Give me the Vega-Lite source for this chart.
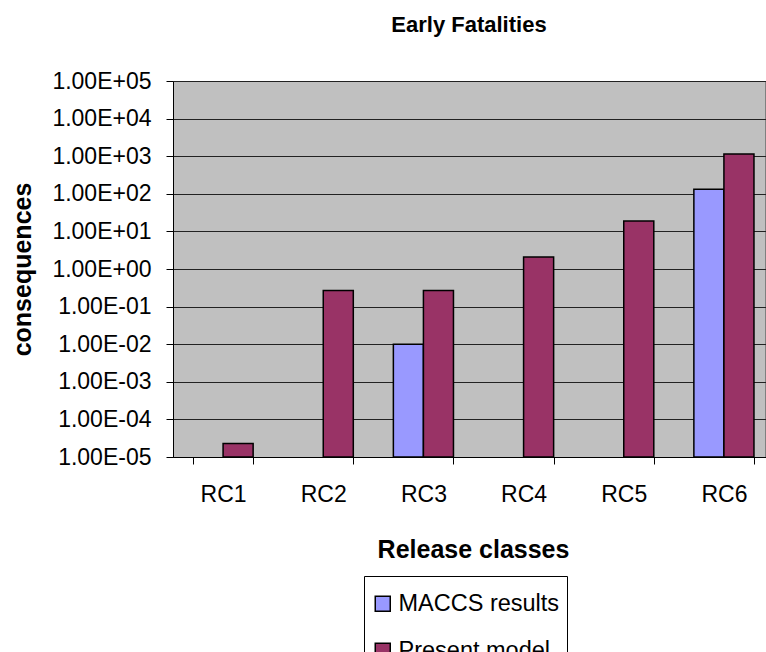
{
  "$schema": "https://vega.github.io/schema/vega-lite/v6.json",
  "width": 592,
  "height": 376,
  "autosize": {"type": "none"},
  "padding": {"left": 173, "top": 81, "right": 1, "bottom": 195},
  "background": "white",
  "title": {
    "text": "Early Fatalities",
    "font": "Liberation Sans",
    "fontSize": 22,
    "fontWeight": "bold",
    "color": "black",
    "anchor": "middle",
    "baseline": "alphabetic",
    "offset": 16
  },
  "config": {
    "view": {"fill": "#C0C0C0", "stroke": "#808080", "strokeWidth": 1},
    "font": "Liberation Sans"
  },
  "data": {
    "values": [
      {"rc": "RC1", "series": "Present model", "value": 0.000023},
      {"rc": "RC2", "series": "Present model", "value": 0.27},
      {"rc": "RC3", "series": "MACCS results", "value": 0.01},
      {"rc": "RC3", "series": "Present model", "value": 0.27},
      {"rc": "RC4", "series": "Present model", "value": 2.1},
      {"rc": "RC5", "series": "Present model", "value": 18.8},
      {"rc": "RC6", "series": "MACCS results", "value": 133},
      {"rc": "RC6", "series": "Present model", "value": 1150}
    ]
  },
  "mark": {"type": "bar", "stroke": "black", "strokeWidth": 1.5},
  "encoding": {
    "x": {
      "field": "rc",
      "type": "nominal",
      "sort": ["RC1", "RC2", "RC3", "RC4", "RC5", "RC6"],
      "scale": {"domain": ["RC1", "RC2", "RC3", "RC4", "RC5", "RC6"], "range": [0, 601], "paddingInner": 0.4, "paddingOuter": 0.2},
      "axis": {
        "title": "Release classes",
        "titleFont": "Liberation Sans",
        "titleFontSize": 25,
        "titleFontWeight": "bold",
        "titleColor": "black",
        "titleX": 300,
        "titleY": 92,
        "titleBaseline": "middle",
        "labelAngle": 0,
        "labelFont": "Liberation Sans",
        "labelFontSize": 23,
        "labelColor": "black",
        "labelPadding": 19,
        "tickBand": "extent",
        "tickColor": "black",
        "tickSize": 7,
        "domainColor": "black",
        "domainWidth": 1,
        "grid": false
      }
    },
    "xOffset": {
      "field": "series",
      "type": "nominal",
      "scale": {"domain": ["MACCS results", "Present model"], "paddingInner": 0, "paddingOuter": 0}
    },
    "y": {
      "field": "value",
      "type": "quantitative",
      "scale": {"type": "log", "domain": [0.00001, 100000], "nice": false},
      "axis": {
        "title": "consequences",
        "titleFont": "Liberation Sans",
        "titleFontSize": 25,
        "titleFontWeight": "bold",
        "titleColor": "black",
        "titleAngle": -90,
        "titleX": -151,
        "titleY": 188,
        "titleAlign": "center",
        "titleBaseline": "middle",
        "values": [0.00001, 0.0001, 0.001, 0.01, 0.1, 1, 10, 100, 1000, 10000, 100000],
        "labelExpr": "'1.00E' + (round(log(datum.value)/LN10) < 0 ? '-' : '+') + (abs(round(log(datum.value)/LN10)) < 10 ? '0' : '') + abs(round(log(datum.value)/LN10))",
        "labelFont": "Liberation Sans",
        "labelFontSize": 23,
        "labelColor": "black",
        "labelPadding": 15,
        "tickColor": "black",
        "tickSize": 7,
        "domainColor": "black",
        "grid": true,
        "gridColor": "#222222",
        "gridWidth": 1
      }
    },
    "y2": {"datum": 0.00001},
    "color": {
      "field": "series",
      "type": "nominal",
      "scale": {"domain": ["MACCS results", "Present model"], "range": ["#9999FF", "#993366"]},
      "legend": {
        "title": " ",
        "titleFontSize": 1,
        "titlePadding": 8,
        "orient": "none",
        "legendX": 191,
        "legendY": 495,
        "direction": "vertical",
        "fillColor": "white",
        "strokeColor": "black",
        "padding": 7,
        "symbolType": "square",
        "symbolSize": 225,
        "symbolStrokeColor": "black",
        "symbolStrokeWidth": 1.5,
        "labelFont": "Liberation Sans",
        "labelFontSize": 23.5,
        "labelColor": "black",
        "labelOffset": 4,
        "labelLimit": 400,
        "rowPadding": 22
      }
    }
  }
}
